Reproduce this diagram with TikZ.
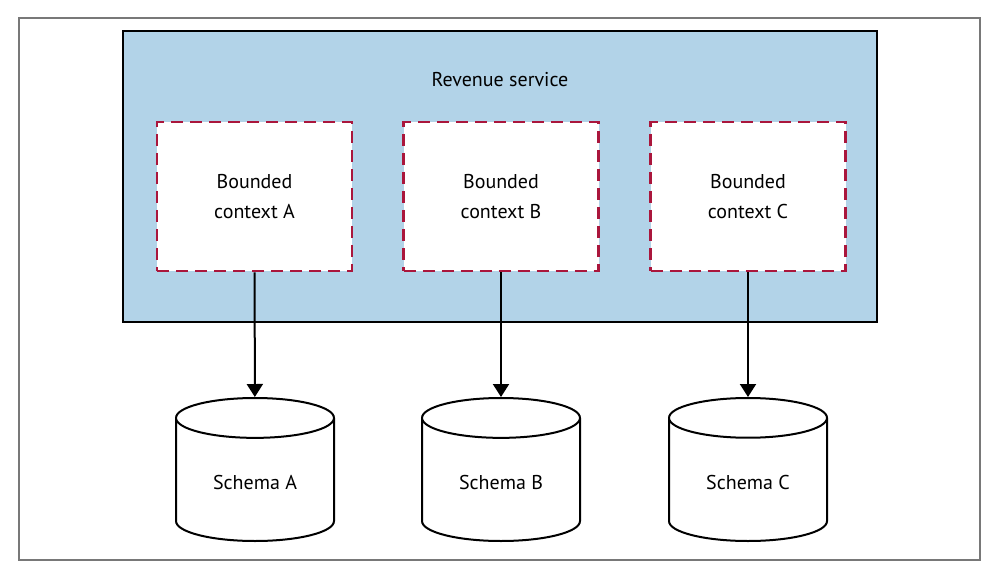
\documentclass[tikz,border=0pt]{standalone}
\usepackage{fontspec}
\setmainfont{PT Sans}
\usepackage{tikz}
\usetikzlibrary{shapes.geometric}
\usetikzlibrary{arrows.meta}

\definecolor{serviceblue}{RGB}{178,211,232}
\definecolor{contextred}{RGB}{170,22,60}
\definecolor{framegray}{RGB}{120,120,120}

\begin{document}
\begin{tikzpicture}[x=1pt,y=1pt,
    font=\fontsize{20}{30}\selectfont,
    service/.style={draw,line width=2pt,fill=serviceblue,minimum width=754pt,minimum height=291pt},
    context/.style={draw=contextred,fill=white,line width=2.8pt,dash pattern=on 12pt off 7pt,
        minimum width=195pt,minimum height=149pt,align=center},
    schema/.style={draw,line width=2pt,fill=white,shape=cylinder,shape border rotate=90,
        aspect=0.44,minimum width=158pt,minimum height=143pt,anchor=shape center},
    link/.style={line width=2pt,-{Triangle[length=13pt,width=16pt]}}]
    \useasboundingbox (0,0) rectangle (993,574);
    \draw[framegray,line width=1.5pt] (19,14) rectangle (980,556);

    \draw (500,397.5) node [service] (rev) {} ;
    \draw (500,494) node (revtitle) {Revenue service} ;

    \draw (254.5,377.5) node [context] (ctxA) {Bounded\\context A} ;
    \draw (501,377.5) node [context] (ctxB) {Bounded\\context B} ;
    \draw (748,377.5) node [context] (ctxC) {Bounded\\context C} ;

    \draw (255,104.5) node [schema] (schA) {Schema A} ;
    \draw (501,104.5) node [schema] (schB) {Schema B} ;
    \draw (748,104.5) node [schema] (schC) {Schema C} ;

    \draw[link] (ctxA) -- (schA);
    \draw[link] (ctxB) -- (schB);
    \draw[link] (ctxC) -- (schC);
\end{tikzpicture}
\end{document}
